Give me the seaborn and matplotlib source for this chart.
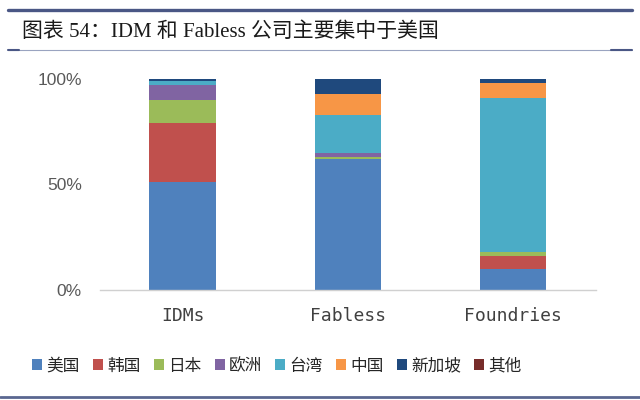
import numpy as np
import pandas as pd
import matplotlib
matplotlib.use("Agg")
import matplotlib.pyplot as plt
import seaborn as sns
from matplotlib.patches import Patch
from matplotlib.lines import Line2D

sns.set_style("white")
plt.rcParams['font.family'] = ['Liberation Sans', 'Noto Sans CJK SC', 'DejaVu Sans']

categories = ["IDMs", "Fabless", "Foundries"]
regions = ["美国", "韩国", "日本", "欧洲", "台湾", "中国", "新加坡", "其他"]
us = [51, 62, 10]
korea = [28, 0, 6]
japan = [11, 1, 2]
europe = [7, 2, 0]
taiwan = [2, 18, 73]
china = [0, 10, 7]
singapore = [1, 7, 2]
other = [0, 0, 0]
colors = ["#4F81BD", "#C0504D", "#9BBB59", "#8064A2", "#4BACC6",
          "#F79646", "#1F497D", "#772C2A"]

series = [us, korea, japan, europe, taiwan, china, singapore, other]
df = pd.DataFrame({"category": categories})
for name, vals in zip(regions, series):
    df[name] = vals
cum = df[regions].cumsum(axis=1)

fig = plt.figure(figsize=(6.4, 4), dpi=100)
ax = fig.add_axes([0.156, 0.275, 0.775, 0.5275])

# stacked bars: draw cumulative totals from top down
for name, col in reversed(list(zip(regions, colors))):
    sns.barplot(x=df["category"], y=cum[name], color=col, width=0.4,
                saturation=1, ax=ax, linewidth=0)

ax.set_ylim(0, 100)
ax.set_yticks([0, 50, 100])
ax.set_yticklabels(["0%", "50%", "100%"])
ax.set_xlabel("")
ax.set_ylabel("")
for s in ["top", "right", "left"]:
    ax.spines[s].set_visible(False)
ax.spines["bottom"].set_color("#d0d0d0")
ax.spines["bottom"].set_linewidth(1)
ax.tick_params(axis="y", length=0, pad=13, labelsize=12.5, labelcolor="#595959")
ax.tick_params(axis="x", length=0, pad=12, labelcolor="#404040")
for lab in ax.get_xticklabels():
    lab.set_fontfamily("DejaVu Sans Mono")
    lab.set_fontsize(13)

handles = [Patch(facecolor=c, edgecolor="none") for c in colors]
fig.legend(handles, regions, loc="center left", bbox_to_anchor=(0.027, 0.085),
           ncol=8, frameon=False, handlelength=0.6, handleheight=0.6,
           handletextpad=0.25, columnspacing=0.8,
           prop={"family": ["Noto Sans CJK SC"], "size": 12})

# title and rules
fig.text(0.034, 0.92, "图表 54：IDM 和 Fabless 公司主要集中于美国",
         ha="left", va="center", fontsize=15, color="#1a1a1a",
         family=["Liberation Serif", "Noto Sans CJK SC"])
fig.add_artist(Line2D([0.012, 0.988], [0.975, 0.975], color="#4a5785", lw=2.4))
fig.add_artist(Line2D([0.012, 0.988], [0.875, 0.875], color="#9aa4c0", lw=0.8))
fig.add_artist(Line2D([0.012, 0.03], [0.875, 0.875], color="#4a5785", lw=1.5))
fig.add_artist(Line2D([0.955, 0.988], [0.875, 0.875], color="#4a5785", lw=1.5))
fig.add_artist(Line2D([0.0, 1.0], [0.008, 0.008], color="#5a6790", lw=2))

fig.savefig("out.png", dpi=100)
